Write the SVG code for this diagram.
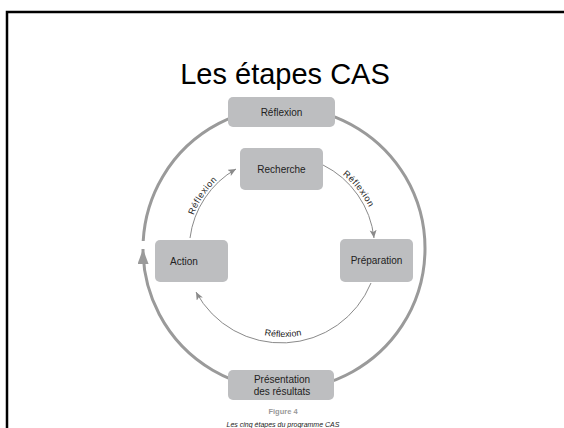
<svg xmlns="http://www.w3.org/2000/svg" xmlns:xlink="http://www.w3.org/1999/xlink" width="564" height="428" viewBox="0 0 564 428">
  <style>
    .box { fill: #bdbec0; }
    .lbl { font-family: "Liberation Sans", Arial, sans-serif; font-size: 10px; fill: #222; }
    .arc { font-family: "Liberation Sans", Arial, sans-serif; font-size: 9px; fill: #222; }
    .thin { fill: none; stroke: #8a8a8a; stroke-width: 1; }
    .thick { fill: none; stroke: #9a9a9a; stroke-width: 3; }
  </style>
  <defs>
    <marker id="ah" markerUnits="userSpaceOnUse" markerWidth="9" markerHeight="8" refX="8" refY="3.5" orient="auto">
      <path d="M0,0 L8,3.5 L0,7 L2,3.5 z" fill="#8a8a8a"/>
    </marker>
    <marker id="bigah" markerUnits="userSpaceOnUse" markerWidth="16" markerHeight="11" refX="15" refY="5.5" orient="auto">
      <path d="M0,0 L15,5.5 L0,11 z" fill="#9a9a9a"/>
    </marker>
    <path id="topcirc" d="M187,250 A96,96 0 0 1 379,250 A96,96 0 0 1 187,250"/>
    <path id="botcirc" d="M188,242 A95,95 0 0 0 378,242"/>
  </defs>
  <rect width="564" height="428" fill="#ffffff"/>
  <path d="M7,428 V12 H564" fill="none" stroke="#000" stroke-width="2.5"/>
  <text x="285" y="84" text-anchor="middle" font-family="Liberation Sans, Arial, sans-serif" font-size="29" fill="#000">Les étapes CAS</text>

  <g id="connectors">
    <path class="thick" d="M143.2,241 A141,141 0 1 1 143,249" marker-end="url(#bigah)"/>
    <path class="thin" d="M190,238 A93,93 0 0 1 236,169" marker-end="url(#ah)"/>
    <path class="thin" d="M323,165 A93,93 0 0 1 374,238" marker-end="url(#ah)"/>
    <path class="thin" d="M371,283 A97,97 0 0 1 196,292" marker-end="url(#ah)"/>
    <text class="arc" letter-spacing="0.6"><textPath xlink:href="#topcirc" startOffset="57" text-anchor="middle">Réflexion</textPath></text>
    <text class="arc" letter-spacing="0.6"><textPath xlink:href="#topcirc" startOffset="236" text-anchor="middle">Réflexion</textPath></text>
    <text class="arc"><textPath xlink:href="#botcirc" startOffset="50%" text-anchor="middle">Réflexion</textPath></text>
  </g>

  <g id="reflexion">
    <rect class="box" x="228" y="97" width="107" height="30" rx="5"/>
    <text class="lbl" x="281.5" y="116" text-anchor="middle">Réflexion</text>
  </g>
  <g id="recherche">
    <rect class="box" x="240" y="148" width="83" height="42" rx="5"/>
    <text class="lbl" x="281.5" y="173" text-anchor="middle">Recherche</text>
  </g>
  <g id="action">
    <rect class="box" x="155" y="240" width="73" height="42" rx="5"/>
    <text class="lbl" x="170" y="265">Action</text>
  </g>
  <g id="preparation">
    <rect class="box" x="340" y="239" width="73" height="43" rx="5"/>
    <text class="lbl" x="376.5" y="264" text-anchor="middle">Préparation</text>
  </g>
  <g id="presentation">
    <rect class="box" x="228" y="370" width="106" height="30" rx="5"/>
    <text class="lbl" x="282" y="383" text-anchor="middle">Présentation</text>
    <text class="lbl" x="282" y="395" text-anchor="middle">des résultats</text>
  </g>
  <text x="283" y="414" text-anchor="middle" font-family="Liberation Sans, Arial, sans-serif" font-size="7.5" font-weight="bold" fill="#9a9a9a">Figure 4</text>
  <text x="283" y="427" text-anchor="middle" font-family="Liberation Sans, Arial, sans-serif" font-size="7" font-style="italic" fill="#222">Les cinq étapes du programme CAS</text>
</svg>
